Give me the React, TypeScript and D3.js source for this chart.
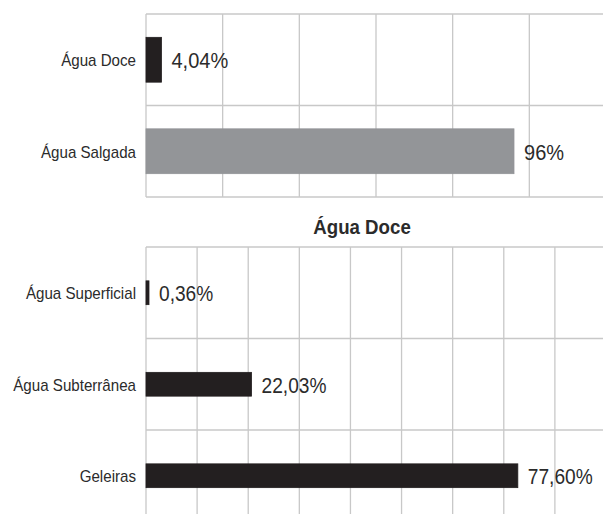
import React from 'react';
import * as d3 from 'd3';

// top panel: total water
const totalCategories = ['Água Doce', 'Água Salgada'];
const totalValues = [4.04, 96];
const totalLabels = ['4,04%', '96%'];
const totalColors = ['#231f20', '#939598'];

// bottom panel: fresh water breakdown
const freshTitle = 'Água Doce';
const freshCategories = ['Água Superficial', 'Água Subterrânea', 'Geleiras'];
const freshValues = [0.36, 22.03, 77.6];
const freshLabels = ['0,36%', '22,03%', '77,60%'];

const W = 603;
const H = 514;
const FONT = '"Liberation Sans", Arial, sans-serif';
const GRID = '#c8c8c8';
const INK = '#231f20';
const TXT = '#2b2b2b';
const SX = 0.89; // source text is slightly condensed

interface PanelProps {
    top: number;
    categories: string[];
    values: number[];
    labels: string[];
    colors: string[];
    maxValue: number;
    divisions: number;
    barFrac: number;
    valueSize: number;
    drawBottom: boolean;
}

const Panel: React.FC<PanelProps> = ({ top, categories, values, labels, colors, maxValue, divisions, barFrac, valueSize, drawBottom }) => {
    const left = 146;
    const right = 606;
    const bandH = 91.5;
    const bottom = top + bandH * categories.length;

    const x = d3.scaleLinear().domain([0, maxValue]).range([left, right]);
    const y = d3.scaleBand<string>().domain(categories).range([top, bottom]);
    const gridVals = d3.range(0, divisions + 1).map(i => (i * maxValue) / divisions);
    const barH = y.bandwidth() * barFrac;
    const lineEnd = drawBottom ? bottom : H;

    return (
        <g>
            {gridVals.map((v, i) => (
                <line key={'v' + i} x1={x(v)} x2={x(v)} y1={top} y2={lineEnd} stroke={GRID} strokeWidth={1.3} />
            ))}
            {categories.map((c, i) => (
                <line key={'h' + i} x1={left} x2={W} y1={y(c)!} y2={y(c)!} stroke={GRID} strokeWidth={1.3} />
            ))}
            {drawBottom && <line x1={left} x2={W} y1={bottom} y2={bottom} stroke={GRID} strokeWidth={1.3} />}
            {categories.map((c, i) => {
                const cy = y(c)! + y.bandwidth() / 2;
                const w = Math.max(x(values[i]) - left, 3);
                return (
                    <g key={c}>
                        <rect x={left} y={cy - barH / 2} width={w} height={barH}
                              fill={colors[i % colors.length]} stroke={colors[i % colors.length]} strokeWidth={0.8} />
                        <text transform={`translate(136,${cy}) scale(${SX},1)`} textAnchor="end" dominantBaseline="central"
                              fontFamily={FONT} fontSize={17} fill={TXT}>{c}</text>
                        <text transform={`translate(${left + w + 10},${cy + 1}) scale(${SX},1)`} dominantBaseline="central"
                              fontFamily={FONT} fontSize={valueSize} fill={TXT}>{labels[i]}</text>
                    </g>
                );
            })}
        </g>
    );
};

const App: React.FC = () => {
    return (
        <svg width={W} height={H} style={{ position: 'absolute', left: 0, top: 0, background: '#fff' }}>
            <Panel top={14} categories={totalCategories} values={totalValues} labels={totalLabels}
                   colors={totalColors} maxValue={120} divisions={6} barFrac={0.49} valueSize={22.5} drawBottom={true} />
            <text transform={`translate(362,227) scale(${SX},1)`} textAnchor="middle" dominantBaseline="central"
                  fontFamily={FONT} fontSize={21} fontWeight="bold" fill={TXT}>{freshTitle}</text>
            <Panel top={247} categories={freshCategories} values={freshValues} labels={freshLabels}
                   colors={[INK]} maxValue={96} divisions={9} barFrac={0.26} valueSize={21.5} drawBottom={false} />
        </svg>
    );
};

export default App;
